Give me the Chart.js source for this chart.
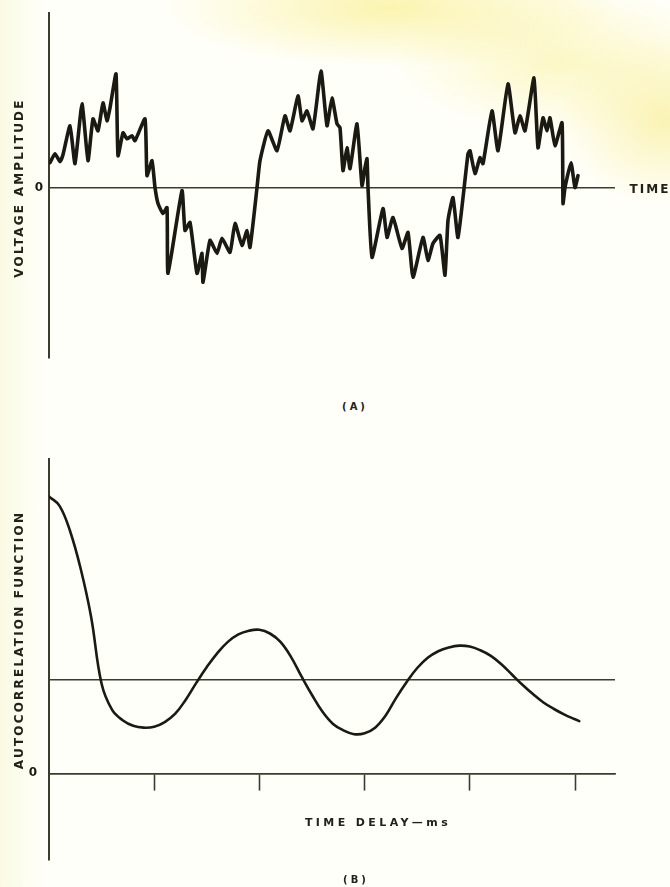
<!DOCTYPE html>
<html>
<head>
<meta charset="utf-8">
<script src="https://cdn.jsdelivr.net/npm/chart.js@4/dist/chart.umd.min.js"></script>
<style>
  html, body { margin: 0; padding: 0; }
  body {
    width: 670px; height: 887px; position: relative; overflow: hidden;
    background:
      radial-gradient(ellipse 230px 60px at 390px 8px, rgba(250,240,150,0.75), rgba(250,240,150,0) 100%),
      radial-gradient(ellipse 170px 75px at 560px 60px, rgba(250,242,160,0.6), rgba(250,242,160,0) 100%),
      radial-gradient(ellipse 110px 85px at 665px 120px, rgba(248,238,150,0.7), rgba(248,238,150,0) 100%),
      linear-gradient(90deg, #fafae4 0px, #fffffa 45px);
    font-family: "DejaVu Sans", sans-serif;
    color: #22221a;
  }
  canvas { position: absolute; left: 0; }
  .lbl {
    position: absolute; font-weight: bold; font-size: 12px; letter-spacing: 2.2px;
    white-space: nowrap; transform: translate(-50%, -50%);
  }
  .rot { transform: translate(-50%, -50%) rotate(-90deg); }
</style>
</head>
<body>
<canvas id="chartA" width="670" height="400" style="top:0"></canvas>
<canvas id="chartB" width="670" height="447" style="top:440px"></canvas>

<div class="lbl rot" style="left:19px; top:188px">VOLTAGE AMPLITUDE</div>
<div class="lbl" style="left:650px; top:189px; letter-spacing:2px">TIME</div>
<div class="lbl" style="left:355px; top:406px; font-size:10px; letter-spacing:3px">(A)</div>
<div class="lbl rot" style="left:19px; top:640px">AUTOCORRELATION FUNCTION</div>
<div class="lbl" style="left:378px; top:822px; font-size:11px; letter-spacing:3.4px">TIME DELAY—ms</div>
<div class="lbl" style="left:356px; top:879px; font-size:10px; letter-spacing:3px">(B)</div>

<script>
// (A) noisy voltage waveform
const voltTime = [0.1, 0.6, 1.1, 1.4, 2.1, 2.6, 3.3, 3.9, 4.4, 4.9, 5.4, 5.8, 6.1, 6.7, 6.9, 7.4, 7.8, 8.3, 8.6, 9.6,
  9.8, 10.3, 10.6, 10.9, 11.4, 11.8, 11.9, 13.3, 13.6, 14.1, 14.8, 15.3, 15.4, 16.1, 16.8, 17.3, 18.1, 18.6, 19.3, 19.8,
  20.1, 20.8, 21.1, 21.9, 22.8, 23.6, 24.1, 24.9, 25.3, 25.8, 26.4, 27.2, 27.8, 28.3, 28.8, 29.1, 29.4, 29.8, 30.1, 30.8,
  31.3, 31.6, 31.8, 31.9, 32.3, 33.4, 33.8, 34.4, 35.3, 35.9, 36.4, 37.4, 37.9, 38.4, 39.1, 39.6, 39.9, 40.4, 40.9, 41.9,
  42.1, 42.6, 43.1, 43.4, 44.3, 44.9, 45.9, 46.6, 47.1, 47.6, 48.5, 48.9, 49.4, 49.8, 50.1, 50.6, 51.3, 51.4, 51.6, 52.2,
  52.6, 52.9];
const voltValue = [2.5, 3.4, 2.6, 3.3, 6.2, 2.4, 8.4, 2.7, 6.9, 5.7, 8.5, 6.7, 8.0, 11.4, 3.2, 5.5, 4.9, 5.2, 4.7, 6.9,
  1.2, 2.7, 0, -1.6, -2.6, -2.0, -8.6, -0.3, -4.3, -3.5, -8.6, -6.6, -9.5, -5.3, -6.6, -5.1, -6.5, -3.6, -5.8, -4.3,
  -6.0, 0, 2.7, 5.7, 3.7, 7.2, 5.7, 9.2, 6.7, 7.7, 5.9, 11.7, 6.2, 9.0, 6.4, 6.0, 1.7, 4.0, 1.9, 6.4,
  0.2, 2.0, 2.9, 0, -7.0, -2.1, -5.0, -3.0, -6.1, -4.5, -9.0, -5.0, -7.3, -5.6, -4.8, -8.8, -3.3, -1.0, -5.0, 3.4,
  3.7, 1.4, 3.0, 2.4, 7.7, 3.7, 10.4, 5.5, 7.2, 5.7, 11.0, 4.0, 7.0, 5.7, 7.0, 4.2, 6.5, -1.6, 0, 2.5,
  0, 1.2];
const voltRange = [-17.1, 17.5];
const timeRange = [0, 56.6];

// (B) autocorrelation, read every 0.1 ms along the drawn curve
const delayMs = [0, 0.1, 0.2, 0.3, 0.4, 0.5, 0.6, 0.7, 0.8, 0.9, 1.0, 1.1, 1.2, 1.3, 1.4, 1.5, 1.6, 1.7, 1.8, 1.9,
  2.0, 2.1, 2.2, 2.3, 2.4, 2.5, 2.6, 2.7, 2.8, 2.9, 3.0, 3.1, 3.2, 3.3, 3.4, 3.5, 3.6, 3.7, 3.8, 3.9,
  4.0, 4.1, 4.2, 4.3, 4.4, 4.5, 4.6, 4.7, 4.8, 4.9, 5.0, 5.04];
const autocorr = [2.97, 2.87, 2.60, 2.20, 1.68, 0.96, 0.68, 0.57, 0.51, 0.49, 0.50, 0.55, 0.64, 0.79, 0.97, 1.14,
  1.29, 1.41, 1.49, 1.53, 1.54, 1.50, 1.41, 1.25, 1.04, 0.84, 0.66, 0.53, 0.46, 0.42, 0.43, 0.49, 0.62, 0.81, 0.98,
  1.13, 1.24, 1.31, 1.35, 1.37, 1.36, 1.32, 1.26, 1.17, 1.06, 0.95, 0.85, 0.76, 0.69, 0.63, 0.58, 0.56];
const autocorrRange = [-0.93, 3.37];
const delayRange = [0, 5.38];
const refLevel = 1;   // the horizontal line the curve settles round
const zeroLabel = '0';

const ink = '#1a1a12';
const axisInk = '#3d3c2c';
const tickFont = { family: 'DejaVu Sans', size: 12, weight: 'bold' };

function pairs(xs, ys) {
  return xs.map((x, i) => ({ x: x, y: ys[i] }));
}

new Chart(document.getElementById('chartA'), {
  type: 'line',
  data: {
    datasets: [{
      data: pairs(voltTime, voltValue),
      borderColor: ink,
      borderWidth: 3.6,
      pointRadius: 0,
      tension: 0.15,
      borderJoinStyle: 'round',
      borderCapStyle: 'round'
    }]
  },
  options: {
    responsive: false,
    animation: false,
    layout: { padding: { top: 12, right: 55, bottom: 42, left: 0 } },
    plugins: { legend: { display: false }, tooltip: { enabled: false } },
    scales: {
      x: { type: 'linear', min: timeRange[0], max: timeRange[1], display: false },
      y: {
        min: voltRange[0], max: voltRange[1],
        afterFit: function(s) { s.width = 49; },
        border: { color: axisInk, width: 2 },
        grid: {
          drawTicks: false,
          lineWidth: 1.6,
          color: function(c) { return c.tick && c.tick.value === 0 ? axisInk : 'rgba(0,0,0,0)'; }
        },
        ticks: {
          stepSize: 5, includeBounds: false, padding: 6, color: ink, font: tickFont,
          callback: function(v) { return v === 0 ? zeroLabel : ''; }
        }
      }
    }
  }
});

new Chart(document.getElementById('chartB'), {
  type: 'line',
  data: {
    datasets: [{
      data: pairs(delayMs, autocorr),
      borderColor: ink,
      borderWidth: 2.6,
      pointRadius: 0,
      tension: 0.4,
      borderCapStyle: 'round'
    }]
  },
  options: {
    responsive: false,
    animation: false,
    layout: { padding: { top: 12, right: 55, bottom: 27, left: 0 } },
    plugins: { legend: { display: false }, tooltip: { enabled: false } },
    scales: {
      x: {
        type: 'linear', min: delayRange[0], max: delayRange[1],
        position: { y: 0 },
        afterFit: function(s) { s.height = 0; },
        border: { color: axisInk, width: 1.6 },
        grid: {
          drawOnChartArea: false,
          drawTicks: true,
          tickLength: 16,
          tickWidth: 1.6,
          color: 'rgba(0,0,0,0)',
          tickColor: function(c) { return c.tick && c.tick.value > 0 ? axisInk : 'rgba(0,0,0,0)'; }
        },
        ticks: { display: false, stepSize: 1, includeBounds: false }
      },
      y: {
        min: autocorrRange[0], max: autocorrRange[1],
        afterFit: function(s) { s.width = 49; },
        border: { color: axisInk, width: 2 },
        grid: {
          drawTicks: false,
          lineWidth: 1.5,
          color: function(c) {
            return c.tick && (c.tick.value === 0 || c.tick.value === refLevel) ? axisInk : 'rgba(0,0,0,0)';
          }
        },
        ticks: {
          stepSize: 1, includeBounds: false, padding: 12, color: ink, font: tickFont,
          callback: function(v) { return v === 0 ? zeroLabel : ''; }
        }
      }
    }
  }
});
</script>
</body>
</html>
